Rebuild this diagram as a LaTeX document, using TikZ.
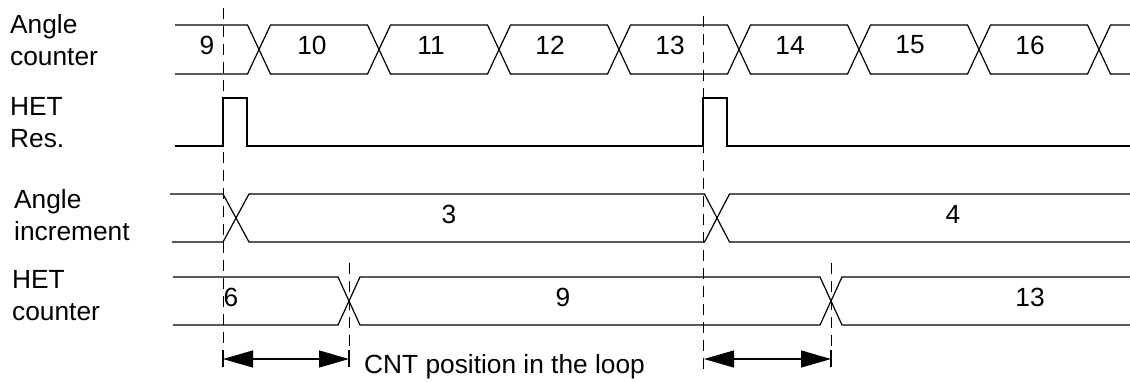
\documentclass[tikz,border=0pt]{standalone}
\usepackage{fontspec}
\setmainfont{Liberation Sans}
\usetikzlibrary{arrows.meta}
\tikzset{
  sig/.style={line width=1.2pt, line join=miter},
  guide/.style={line width=1pt, dash pattern=on 11pt off 7pt},
  lbl/.style={inner sep=0pt, align=left, anchor=base west, font=\fontsize{26.3}{32}\selectfont},
  val/.style={inner sep=0pt, font=\fontsize{26.3}{32}\selectfont},
  dim/.style={line width=1.2pt, {Triangle[length=30pt,width=17pt]}-{Triangle[length=30pt,width=17pt]}},
}
\begin{document}
\begin{tikzpicture}[x=1pt,y=-1pt]
\useasboundingbox (0,0) rectangle (1130,381);
% left labels (anchor = baseline of the last line)
\node[lbl] (l1) at (10,65) {Angle\\counter};
\node[lbl] (l2) at (10,147) {HET\\Res.};
\node[lbl] (l3) at (14,240) {Angle\\increment};
\node[lbl] (l4) at (12,320) {HET\\counter};
% Angle counter bus
\draw[sig] (175,25) -- (247.5,25) -- (259,49.5) -- (247.5,74) -- (175,74);
\foreach \a in {259,379,499,619,739,859,979} {
  \draw[sig] (\a,49.5) -- ({\a+11.5},25) -- ({\a+108.5},25) -- ({\a+120},49.5) -- ({\a+108.5},74) -- ({\a+11.5},74) -- cycle;
}
\draw[sig] (1130,25) -- (1110.5,25) -- (1099,49.5) -- (1110.5,74) -- (1130,74);
\node[val] (v9) at (207,45) {9};
\node[val] (v10) at (312,45) {10};
\node[val] (v11) at (431,45) {11};
\node[val] (v12) at (550,45) {12};
\node[val] (v13) at (670,45) {13};
\node[val] (v14) at (790,45) {14};
\node[val] (v15) at (910,45) {15};
\node[val] (v16) at (1030,45) {16};
% HET Res
\draw[sig] (175,146) -- (223,146) -- (223,98) -- (247,98) -- (247,146) -- (703,146) -- (703,98) -- (727,98) -- (727,146) -- (1130,146);
% Angle increment bus
\draw[sig] (170,194) -- (223,194) -- (236,218) -- (223,242) -- (172,242);
\draw[sig] (236,218) -- (249,194) -- (704.5,194) -- (717,218) -- (704.5,242) -- (249,242) -- cycle;
\draw[sig] (1130,194) -- (729.5,194) -- (717,218) -- (729.5,242) -- (1130,242);
\node[val] (a3) at (449,214) {3};
\node[val] (a4) at (953,214) {4};
% HET counter bus
\draw[sig] (173,277) -- (338,277) -- (349,301) -- (338,325) -- (173,325);
\draw[sig] (349,301) -- (360,277) -- (820,277) -- (831,301) -- (820,325) -- (360,325) -- cycle;
\draw[sig] (1130,277) -- (842,277) -- (831,301) -- (842,325) -- (1130,325);
\node[val] (h6) at (231,297) {6};
\node[val] (h9) at (563,297) {9};
\node[val] (h13) at (1030,297) {13};
% guide lines
\coordinate (g1t) at (223,8);   \coordinate (g1b) at (223,367);
\coordinate (g2t) at (703,16);  \coordinate (g2b) at (703,375);
\coordinate (g3t) at (349,263); \coordinate (g3b) at (349,367);
\coordinate (g4t) at (831,263); \coordinate (g4b) at (831,367);
\draw[guide] (g1t) -- (g1b);
\draw[guide] (g2t) -- (g2b);
\draw[guide] (g3t) -- (g3b);
\draw[guide] (g4t) -- (g4b);
% dimension bars
\draw[line width=1.2pt] (223,350) -- (223,367);
\draw[line width=1.2pt] (349,350) -- (349,367);
\draw[line width=1.2pt] (831,350) -- (831,367);
\coordinate (d1a) at (223,359); \coordinate (d1b) at (349,359);
\coordinate (d2a) at (704,359); \coordinate (d2b) at (831,359);
\draw[dim] (d1a) -- (d1b);
\draw[dim] (d2a) -- (d2b);
\node[lbl] (cnt) at (364,373) {CNT position in the loop};
\end{tikzpicture}
\end{document}
